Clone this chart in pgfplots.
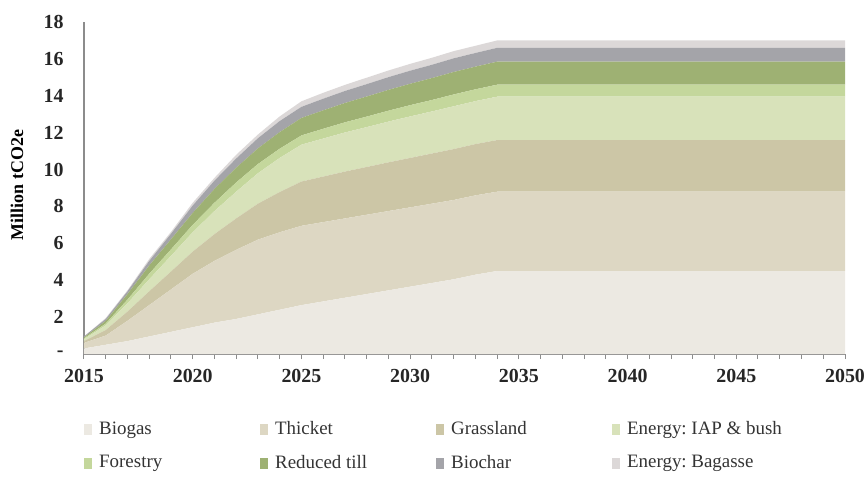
\documentclass[border=0pt]{standalone}
\usepackage{fontspec}
\setmainfont{Liberation Serif}
\usepackage{pgfplots}
\usepackage{pgfplotstable}
\pgfplotsset{compat=1.18}
\frenchspacing

\definecolor{cBiogas}{HTML}{ECE9E2}
\definecolor{cThicket}{HTML}{DDD7C3}
\definecolor{cGrass}{HTML}{CCC6A6}
\definecolor{cIAP}{HTML}{D8E2BA}
\definecolor{cForest}{HTML}{C4D79C}
\definecolor{cTill}{HTML}{9EB173}
\definecolor{cBiochar}{HTML}{A4A4A9}
\definecolor{cBagasse}{HTML}{DCD8D8}
\definecolor{axisgrey}{HTML}{8C8C8C}

% Million tCO2e per year, per measure (not cumulative)
\pgfplotstableread{
year biogas thicket grass iap forest till biochar bagasse
2015 0.30 0.30 0.10 0.10 0.05 0.05 0.05 0.00
2016 0.50 0.50 0.30 0.25 0.10 0.15 0.10 0.05
2017 0.70 1.10 0.50 0.45 0.20 0.30 0.15 0.05
2018 0.95 1.70 0.75 0.65 0.30 0.45 0.25 0.10
2019 1.20 2.30 0.97 0.85 0.35 0.55 0.30 0.10
2020 1.45 2.90 1.20 1.05 0.40 0.65 0.40 0.15
2021 1.70 3.35 1.45 1.25 0.45 0.75 0.45 0.15
2022 1.90 3.75 1.70 1.45 0.50 0.80 0.50 0.20
2023 2.15 4.05 1.95 1.65 0.50 0.85 0.55 0.20
2024 2.40 4.20 2.18 1.85 0.50 0.90 0.60 0.25
2025 2.65 4.30 2.40 2.00 0.50 0.95 0.60 0.30
2026 2.85 4.30 2.47 2.06 0.53 1.00 0.63 0.32
2027 3.05 4.30 2.54 2.12 0.55 1.05 0.65 0.33
2028 3.25 4.30 2.59 2.16 0.57 1.09 0.67 0.35
2029 3.45 4.30 2.64 2.21 0.59 1.13 0.69 0.36
2030 3.65 4.30 2.68 2.25 0.61 1.16 0.71 0.37
2031 3.85 4.30 2.72 2.28 0.62 1.19 0.72 0.38
2032 4.05 4.30 2.76 2.32 0.64 1.22 0.74 0.39
2033 4.30 4.30 2.78 2.33 0.64 1.23 0.74 0.39
2034 4.50 4.30 2.80 2.35 0.65 1.25 0.75 0.40
2050 4.50 4.30 2.80 2.35 0.65 1.25 0.75 0.40
}\data

\newcommand{\lgd}[1]{\makebox[160bp][l]{\hspace{3bp}#1}}

\begin{document}
\begin{tikzpicture}
\path[use as bounding box] (-84bp,-123bp) rectangle (780bp,354bp);
\begin{axis}[
    at={(0,0)}, anchor=south west,
    scale only axis,
    width=761bp, height=332bp,
    xmin=2015, xmax=2050, ymin=0, ymax=18,
    axis lines=left,
    axis line style={-, draw=axisgrey, line width=1.2bp},
    stack plots=y,
    xtick={2015,2020,...,2050},
    minor xtick={2016,...,2049},
    xticklabel style={/pgf/number format/1000 sep={}, yshift=-7bp},
    tick align=outside,
    major tick length=5bp, minor tick length=5bp,
    x tick style={draw=axisgrey, line width=1bp},
    ytick={0,2,...,18},
    yticklabels={-,2,4,6,8,10,12,14,16,18},
    y tick style={draw=none},
    yticklabel style={xshift=-12bp},
    /pgf/number format/assume math mode=true,
    tick label style={font=\fontsize{20}{24}\selectfont\bfseries, text=black!85},
    ylabel={Million tCO2e},
    every axis y label/.style={at={(axis description cs:-0.088,0.509)}, rotate=90, anchor=center,
        font=\fontsize{18}{21}\selectfont\bfseries},
    legend columns=4,
    legend cell align=left,
    legend image code/.code={\fill[#1] (0bp,-6bp) rectangle (8bp,5bp);},
    legend style={at={(axis description cs:0.0,-0.197)}, anchor=north west, draw=none, fill=none,
        inner sep=0pt, column sep=2bp, row sep=15bp,
        font=\fontsize{19}{22}\selectfont, text=black!80},
  ]
  \addplot[fill=cBiogas, draw=none] table[x=year, y=biogas] {\data} \closedcycle;
  \addplot[fill=cThicket, draw=none] table[x=year, y=thicket] {\data} \closedcycle;
  \addplot[fill=cGrass, draw=none] table[x=year, y=grass] {\data} \closedcycle;
  \addplot[fill=cIAP, draw=none] table[x=year, y=iap] {\data} \closedcycle;
  \addplot[fill=cForest, draw=none] table[x=year, y=forest] {\data} \closedcycle;
  \addplot[fill=cTill, draw=none] table[x=year, y=till] {\data} \closedcycle;
  \addplot[fill=cBiochar, draw=none] table[x=year, y=biochar] {\data} \closedcycle;
  \addplot[fill=cBagasse, draw=none] table[x=year, y=bagasse] {\data} \closedcycle;
  \legend{\lgd{Biogas},\lgd{Thicket},\lgd{Grassland},\lgd{Energy: IAP \& bush},
          \lgd{Forestry},\lgd{Reduced till},\lgd{Biochar},\lgd{Energy: Bagasse}}
\end{axis}
\end{tikzpicture}
\end{document}
